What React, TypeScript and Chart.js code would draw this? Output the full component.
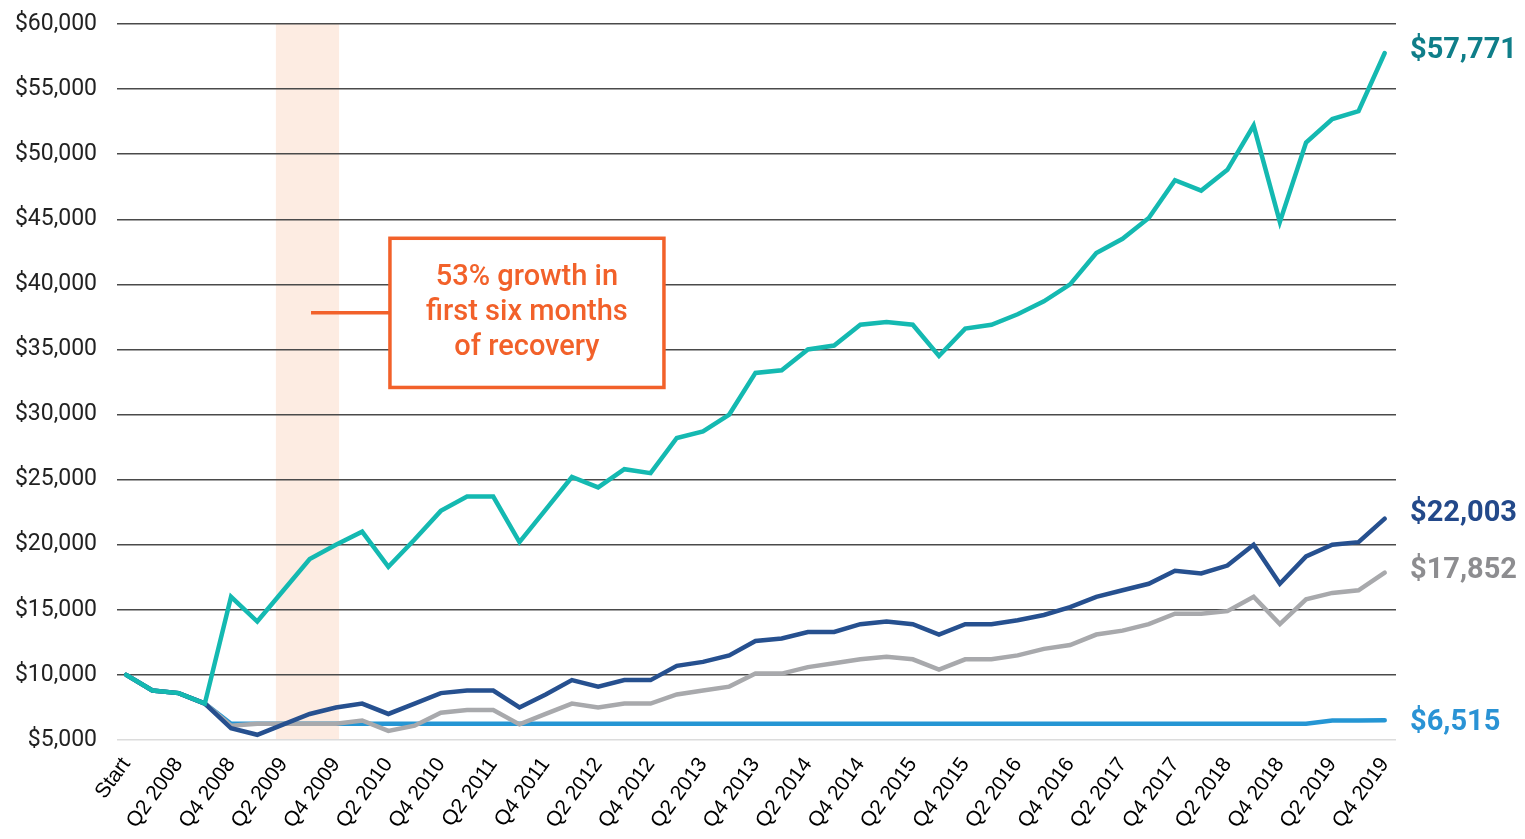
import React, { useEffect, useRef } from 'react';
import { Chart, registerables } from 'chart.js';

Chart.register(...registerables);

const categories = [
  'Start',
  'Q1 2008', 'Q2 2008', 'Q3 2008', 'Q4 2008',
  'Q1 2009', 'Q2 2009', 'Q3 2009', 'Q4 2009',
  'Q1 2010', 'Q2 2010', 'Q3 2010', 'Q4 2010',
  'Q1 2011', 'Q2 2011', 'Q3 2011', 'Q4 2011',
  'Q1 2012', 'Q2 2012', 'Q3 2012', 'Q4 2012',
  'Q1 2013', 'Q2 2013', 'Q3 2013', 'Q4 2013',
  'Q1 2014', 'Q2 2014', 'Q3 2014', 'Q4 2014',
  'Q1 2015', 'Q2 2015', 'Q3 2015', 'Q4 2015',
  'Q1 2016', 'Q2 2016', 'Q3 2016', 'Q4 2016',
  'Q1 2017', 'Q2 2017', 'Q3 2017', 'Q4 2017',
  'Q1 2018', 'Q2 2018', 'Q3 2018', 'Q4 2018',
  'Q1 2019', 'Q2 2019', 'Q3 2019', 'Q4 2019',
];

const tealValues = [
  10000, 8800, 8600, 7800, 16000, 14100, 16500, 18900, 20000, 21000,
  18300, 20400, 22600, 23700, 23700, 20200, 22700, 25200, 24400, 25800,
  25500, 28200, 28700, 30000, 33200, 33400, 35000, 35300, 36900, 37100,
  36900, 34500, 36600, 36900, 37700, 38700, 40000, 42400, 43500, 45100,
  48000, 47200, 48800, 52200, 44800, 50900, 52700, 53300, 57771,
];

const navyValues = [
  10000, 8800, 8600, 7800, 5900, 5400, 6200, 7000, 7500, 7800,
  7000, 7800, 8600, 8800, 8800, 7500, 8500, 9600, 9100, 9600,
  9600, 10700, 11000, 11500, 12600, 12800, 13300, 13300, 13900, 14100,
  13900, 13100, 13900, 13900, 14200, 14600, 15200, 16000, 16500, 17000,
  18000, 17800, 18400, 20000, 17000, 19100, 20000, 20200, 22003,
];

const grayValues = [
  10000, 8800, 8600, 7800, 6100, 6250, 6250, 6250, 6250, 6500,
  5700, 6100, 7100, 7300, 7300, 6200, 7000, 7800, 7500, 7800,
  7800, 8500, 8800, 9100, 10100, 10100, 10600, 10900, 11200, 11400,
  11200, 10400, 11200, 11200, 11500, 12000, 12300, 13100, 13400, 13900,
  14700, 14700, 14900, 16000, 13900, 15800, 16300, 16500, 17852,
];

const cashValues = [
  10000, 8800, 8600, 7800, 6250, 6250, 6250, 6250, 6250, 6250,
  6250, 6250, 6250, 6250, 6250, 6250, 6250, 6250, 6250, 6250,
  6250, 6250, 6250, 6250, 6250, 6250, 6250, 6250, 6250, 6250,
  6250, 6250, 6250, 6250, 6250, 6250, 6250, 6250, 6250, 6250,
  6250, 6250, 6250, 6250, 6250, 6250, 6500, 6500, 6515,
];

const yTicks = [5000, 10000, 15000, 20000, 25000, 30000, 35000, 40000, 45000, 50000, 55000, 60000];

const annotationLines = ['53% growth in', 'first six months', 'of recovery'];

const ORANGE = '#F2612A';

const seriesStyles = [
  { values: tealValues, color: '#14B9B1', labelColor: '#0F7E89', labelOffset: -2 },
  { values: navyValues, color: '#26508F', labelColor: '#23498A', labelOffset: -5 },
  { values: grayValues, color: '#A8A9AC', labelColor: '#8D8D90', labelOffset: -2 },
  { values: cashValues, color: '#2596D4', labelColor: '#2A93D5', labelOffset: 2 },
];

const fmt = (v: number) => '$' + v.toLocaleString('en-US');

const bandPlugin = {
  id: 'recoveryBand',
  beforeDraw(chart: any) {
    const { ctx, chartArea, scales } = chart;
    const x = scales.x;
    const l = x.getPixelForValue(5.71);
    const r = x.getPixelForValue(8.12);
    ctx.save();
    ctx.fillStyle = '#FDECE2';
    ctx.fillRect(l, chartArea.top, r - l, chartArea.bottom - chartArea.top);
    ctx.restore();
  },
};

const annotationPlugin = {
  id: 'recoveryNote',
  afterDatasetsDraw(chart: any) {
    const { ctx, scales } = chart;
    const { x, y } = scales;
    const l = x.getPixelForValue(10.06);
    const r = x.getPixelForValue(20.51);
    const t = y.getPixelForValue(43540);
    const b = y.getPixelForValue(32080);
    const cl = x.getPixelForValue(7.05);
    const cy = (t + b) / 2;
    ctx.save();
    ctx.fillStyle = '#ffffff';
    ctx.fillRect(l, t, r - l, b - t);
    ctx.strokeStyle = ORANGE;
    ctx.lineWidth = 3.5;
    ctx.strokeRect(l, t, r - l, b - t);
    ctx.beginPath();
    ctx.moveTo(cl, cy);
    ctx.lineTo(l, cy);
    ctx.stroke();
    ctx.fillStyle = ORANGE;
    ctx.font = '500 29px Roboto';
    ctx.textAlign = 'center';
    ctx.textBaseline = 'middle';
    annotationLines.forEach((s, i) => {
      ctx.fillText(s, (l + r) / 2, cy + (i - 1) * 35);
    });
    ctx.restore();
  },
};

const endLabelPlugin = {
  id: 'endLabels',
  afterDraw(chart: any) {
    const { ctx, chartArea, scales } = chart;
    const y = scales.y;
    ctx.save();
    ctx.font = 'bold 29px Roboto';
    ctx.textAlign = 'left';
    ctx.textBaseline = 'middle';
    seriesStyles.forEach((s) => {
      const v = s.values[s.values.length - 1];
      ctx.fillStyle = s.labelColor;
      ctx.fillText(fmt(v), chartArea.right + 14, y.getPixelForValue(v) + s.labelOffset);
    });
    ctx.restore();
  },
};

export default function App() {
  const canvasRef = useRef<HTMLCanvasElement | null>(null);

  useEffect(() => {
    if (!canvasRef.current) return;
    const chart = new Chart(canvasRef.current, {
      type: 'line',
      data: {
        datasets: seriesStyles.map((s, idx) => ({
          label: 'Series ' + (idx + 1),
          data: s.values.map((v, i) => ({ x: i, y: v })),
          borderColor: s.color,
          backgroundColor: s.color,
          borderWidth: 4.5,
          pointRadius: 0,
          tension: 0,
          fill: false,
          borderCapStyle: 'round',
          borderJoinStyle: 'miter',
        })),
      },
      options: {
        responsive: false,
        animation: false,
        layout: { padding: { left: 0, right: 129, top: 24, bottom: 0 } },
        plugins: {
          legend: { display: false },
          tooltip: { enabled: false },
        },
        scales: {
          x: {
            type: 'linear',
            min: -0.35,
            max: 48.43,
            afterBuildTicks: (scale: any) => {
              scale.ticks = categories
                .map((_, i) => i)
                .filter((i) => i % 2 === 0)
                .map((i) => ({ value: i }));
            },
            afterFit: (scale: any) => {
              scale.height = 99;
              scale.paddingLeft = 0;
              scale.paddingRight = 0;
            },
            grid: { display: false, drawTicks: false },
            border: { display: false },
            ticks: {
              autoSkip: false,
              minRotation: 54,
              maxRotation: 54,
              padding: 13,
              color: '#000',
              font: { family: 'Liberation Sans, Arial, sans-serif', size: 21 },
              callback: (v: any) => categories[v] ?? '',
            },
          },
          y: {
            min: 5000,
            max: 60000,
            afterBuildTicks: (scale: any) => {
              scale.ticks = yTicks.map((v) => ({ value: v }));
            },
            afterFit: (scale: any) => {
              scale.width = 117;
              scale.paddingTop = 0;
              scale.paddingBottom = 0;
            },
            border: { display: false },
            grid: {
              drawTicks: false,
              lineWidth: 1.5,
              color: (ctx: any) => (ctx.tick && ctx.tick.value === 5000 ? '#DCDCDC' : '#4A4A4A'),
            },
            ticks: {
              padding: 20,
              color: '#222',
              font: { family: 'Roboto, sans-serif', size: 23 },
              callback: (v: any) => fmt(Number(v)),
            },
          },
        },
      },
      plugins: [bandPlugin, annotationPlugin, endLabelPlugin],
    } as any);
    return () => chart.destroy();
  }, []);

  return (
    <div style={{ position: 'absolute', left: 0, top: 0, width: 1525, height: 839, background: '#fff' }}>
      <canvas ref={canvasRef} width={1525} height={839} />
    </div>
  );
}
